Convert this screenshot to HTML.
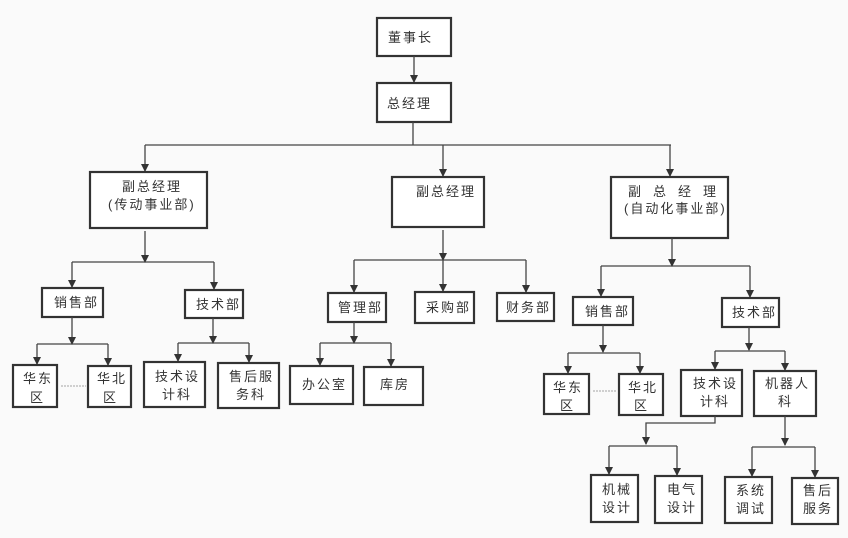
<!DOCTYPE html>
<html><head><meta charset="utf-8"><style>
html,body{margin:0;padding:0;background:#fafafa;}
svg{display:block;}
text{font-family:"Liberation Sans","Noto Sans CJK SC",sans-serif;font-size:13px;fill:#333;letter-spacing:2px;}
</style></head><body>
<svg width="848" height="538" viewBox="0 0 848 538" xmlns="http://www.w3.org/2000/svg">
<defs><marker id="a" markerWidth="8" markerHeight="8" refX="4" refY="7" orient="0" markerUnits="userSpaceOnUse"><path d="M0,0 L8,0 L4,8 z" fill="#333"/></marker></defs>
<g fill="#fff" stroke="#333" stroke-width="2.2">
<rect x="377" y="18" width="74" height="38"/>
<rect x="377" y="83" width="74" height="39"/>
<rect x="90" y="172" width="117" height="56"/>
<rect x="392" y="177" width="92" height="50"/>
<rect x="611" y="177" width="117" height="61"/>
<rect x="42" y="288" width="61" height="29"/>
<rect x="185" y="290" width="58" height="28"/>
<rect x="328" y="293" width="58" height="29"/>
<rect x="415" y="292" width="59" height="31"/>
<rect x="497" y="293" width="57" height="28"/>
<rect x="573" y="297" width="60" height="28"/>
<rect x="722" y="298" width="57" height="29"/>
<rect x="13" y="365" width="44" height="42"/>
<rect x="88" y="366" width="43" height="41"/>
<rect x="144" y="362" width="61" height="45"/>
<rect x="218" y="363" width="61" height="45"/>
<rect x="290" y="366" width="63" height="38"/>
<rect x="364" y="367" width="59" height="38"/>
<rect x="544" y="374" width="45" height="40"/>
<rect x="619" y="374" width="44" height="41"/>
<rect x="681" y="370" width="61" height="46"/>
<rect x="754" y="371" width="62" height="45"/>
<rect x="591" y="475" width="47" height="47"/>
<rect x="655" y="476" width="47" height="47"/>
<rect x="725" y="477" width="47" height="46"/>
<rect x="792" y="478" width="46" height="46"/>
</g>
<g fill="none" stroke="#444" stroke-width="1.3">
<path d="M414 56 V82" marker-end="url(#a)"/>
<path d="M413 122 V145 M145 145 H671"/>
<path d="M145 145 V171" marker-end="url(#a)"/>
<path d="M443 145 V176" marker-end="url(#a)"/>
<path d="M670 145 V176" marker-end="url(#a)"/>
<path d="M145 231 V262" marker-end="url(#a)"/>
<path d="M72 262 H214"/>
<path d="M72 262 V287" marker-end="url(#a)"/>
<path d="M214 262 V289" marker-end="url(#a)"/>
<path d="M443 230 V260" marker-end="url(#a)"/>
<path d="M354 260 H526"/>
<path d="M354 260 V292" marker-end="url(#a)"/>
<path d="M443 260 V291" marker-end="url(#a)"/>
<path d="M526 260 V292" marker-end="url(#a)"/>
<path d="M672 238 V266" marker-end="url(#a)"/>
<path d="M601 266 H750"/>
<path d="M601 266 V296" marker-end="url(#a)"/>
<path d="M750 266 V297" marker-end="url(#a)"/>
<path d="M72 317 V344" marker-end="url(#a)"/>
<path d="M37 344 H108"/>
<path d="M37 344 V364" marker-end="url(#a)"/>
<path d="M108 344 V365" marker-end="url(#a)"/>
<path d="M213 318 V343" marker-end="url(#a)"/>
<path d="M178 343 H249"/>
<path d="M178 343 V361" marker-end="url(#a)"/>
<path d="M249 343 V362" marker-end="url(#a)"/>
<path d="M354 322 V343" marker-end="url(#a)"/>
<path d="M320 343 H391"/>
<path d="M320 343 V365" marker-end="url(#a)"/>
<path d="M391 343 V366" marker-end="url(#a)"/>
<path d="M603 325 V352" marker-end="url(#a)"/>
<path d="M568 353 H640"/>
<path d="M568 353 V373" marker-end="url(#a)"/>
<path d="M640 353 V373" marker-end="url(#a)"/>
<path d="M749 327 V350" marker-end="url(#a)"/>
<path d="M715 351 H785"/>
<path d="M715 351 V369" marker-end="url(#a)"/>
<path d="M785 351 V370" marker-end="url(#a)"/>
<path d="M715 416 V423 H646 V444" marker-end="url(#a)"/>
<path d="M609 446 H677"/>
<path d="M609 446 V474" marker-end="url(#a)"/>
<path d="M677 446 V475" marker-end="url(#a)"/>
<path d="M785 416 V445" marker-end="url(#a)"/>
<path d="M752 447 H815"/>
<path d="M752 447 V476" marker-end="url(#a)"/>
<path d="M815 447 V477" marker-end="url(#a)"/>
</g>
<g stroke="#888" stroke-width="0.8" stroke-dasharray="2,1">
<path d="M61 386 H86"/><path d="M593 391 H617"/>
</g>
<text x="388" y="42">董事长</text>
<text x="387" y="108">总经理</text>
<text x="122" y="191">副总经理</text>
<text x="108" y="209">(传动事业部)</text>
<text x="416" y="196">副总经理</text>
<text x="628" y="196" style="letter-spacing:12px">副总经理</text>
<text x="624" y="213">(自动化事业部)</text>
<text x="54" y="307">销售部</text>
<text x="196" y="309">技术部</text>
<text x="338" y="312">管理部</text>
<text x="426" y="312">采购部</text>
<text x="506" y="312">财务部</text>
<text x="585" y="316">销售部</text>
<text x="732" y="317">技术部</text>
<text x="23" y="383">华东</text><text x="30" y="402">区</text>
<text x="97" y="383">华北</text><text x="103" y="402">区</text>
<text x="155" y="381">技术设</text><text x="162" y="399">计科</text>
<text x="229" y="381">售后服</text><text x="236" y="399">务科</text>
<text x="302" y="389">办公室</text>
<text x="380" y="389">库房</text>
<text x="553" y="392">华东</text><text x="560" y="410">区</text>
<text x="628" y="392">华北</text><text x="634" y="410">区</text>
<text x="693" y="388">技术设</text><text x="700" y="406">计科</text>
<text x="765" y="388">机器人</text><text x="778" y="406">科</text>
<text x="602" y="494">机械</text><text x="602" y="512">设计</text>
<text x="667" y="494">电气</text><text x="667" y="512">设计</text>
<text x="736" y="495">系统</text><text x="736" y="513">调试</text>
<text x="803" y="495">售后</text><text x="803" y="513">服务</text>
</svg>
</body></html>
